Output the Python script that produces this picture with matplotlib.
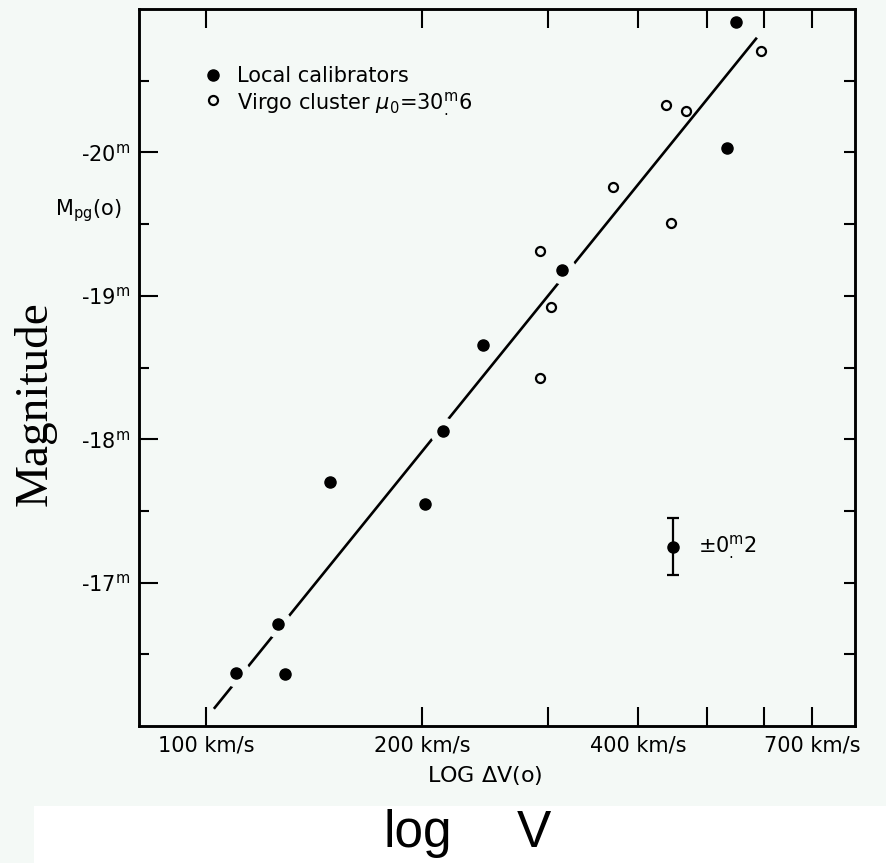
import matplotlib
matplotlib.use("Agg")
import matplotlib.pyplot as plt
from matplotlib.patches import Rectangle
from matplotlib.ticker import NullLocator, FixedLocator

# ---------------- data ----------------
v_local = [110, 126, 129, 149, 202, 214, 243, 313, 532, 548]
M_local = [-16.37, -16.71, -16.36, -17.70, -17.55, -18.06, -18.66, -19.18, -20.03, -20.91]

v_virgo = [292, 303, 292, 369, 445, 438, 466, 594]
M_virgo = [-19.31, -18.92, -18.43, -19.76, -19.51, -20.33, -20.29, -20.71]

line_v = [102.5, 586]
line_M = [-16.12, -20.80]

err_v = [447]
err_M = [-17.25]
err_size = [0.2]

xticks = [100, 200, 300, 400, 500, 600, 700]
xticklabels = ['100 km/s', '200 km/s', '', '400 km/s', '', '', '700 km/s']
yticks = [-20, -19, -18, -17]
yticklabels = [r'-20$^{\rm m}$', r'-19$^{\rm m}$', r'-18$^{\rm m}$', r'-17$^{\rm m}$']
yminor = [-20.5, -19.5, -18.5, -17.5, -16.5]
yright = [-20.5, -20, -19.5, -19, -18.5, -18, -17.5, -17, -16.5]

# ---------------- style ----------------
bg = '#f4f9f6'
W, H = 887, 863
plt.rcParams['font.family'] = ['DejaVu Sans']
plt.rcParams['mathtext.fontset'] = 'dejavusans'

fig = plt.figure(figsize=(W / 100, H / 100), dpi=100, facecolor=bg)
fig.patches.append(Rectangle((34 / W, 0), 1, (H - 806) / H, transform=fig.transFigure,
                             facecolor='white', edgecolor='none', zorder=-1))

L, R, T, B = 139, 855, 9, 726
ax = fig.add_axes([L / W, 1 - B / H, (R - L) / W, (B - T) / H])
ax.set_facecolor(bg)
ax.set_xscale('log')
ax.set_xlim(80.6, 803)
ax.set_ylim(-16.0, -21.0)

# fit line (drawn with gaps around the local calibrators via background halos)
ax.plot(line_v, line_M, color='k', lw=1.9, solid_capstyle='butt', zorder=2)
ax.plot(v_local, M_local, 'o', ms=19, color=bg, mec=bg, zorder=2.2)

ax.plot(v_local, M_local, 'o', ms=8, color='k', zorder=3)
ax.plot(v_virgo, M_virgo, 'o', ms=6.5, mfc=bg, mec='k', mew=1.6, zorder=3)

ax.errorbar(err_v, err_M, yerr=err_size, fmt='o', ms=8, color='k',
            capsize=4, elinewidth=1.6, capthick=1.6, zorder=3)
ax.annotate(r'$\pm0^{\rm m}_{.}2$', (err_v[0], err_M[0]), xytext=(18, 0),
            textcoords='offset points', va='center', ha='left', fontsize=15)

# axes styling
for s in ax.spines.values():
    s.set_linewidth(1.8)
ax.set_xticks(xticks)
ax.set_xticklabels(xticklabels)
ax.xaxis.set_minor_locator(NullLocator())
ax.tick_params(axis='x', which='major', direction='in', length=13.7, width=1.5,
               top=True, labelsize=15, pad=6.5)
ax.set_yticks(yticks)
ax.set_yticklabels(yticklabels)
ax.yaxis.set_minor_locator(FixedLocator(yminor))
ax.tick_params(axis='y', which='major', direction='in', length=13.7, width=1.5,
               right=False, labelsize=15, pad=6.5)
ax.tick_params(axis='y', which='minor', direction='in', length=7.2, width=1.5, right=False)

ax2 = ax.twinx()
ax2.set_ylim(ax.get_ylim())
ax2.set_yticks(yright)
ax2.yaxis.set_minor_locator(NullLocator())
ax2.tick_params(axis='y', direction='in', length=8, width=1.5, labelright=False)
for s in ax2.spines.values():
    s.set_linewidth(1.8)

ax.set_xlabel(r'LOG $\Delta$V(o)', fontsize=16)
ax.xaxis.set_label_coords((485 - L) / (R - L), -(775 - B) / (B - T))
ax.xaxis.label.set_va('center')

# legend (manual, in axes fraction)
ax.plot([0.1034], [0.908], 'o', ms=8, color='k', transform=ax.transAxes, clip_on=False)
ax.plot([0.1034], [0.8726], 'o', ms=6.5, mfc=bg, mec='k', mew=1.6, transform=ax.transAxes)
ax.text(0.137, 0.8986, 'Local calibrators', transform=ax.transAxes, fontsize=15, va='baseline')
ax.text(0.137, 0.8605, r'Virgo cluster $\mu_0$=$30^{\rm m}_{.}6$', transform=ax.transAxes,
        fontsize=15, va='baseline')

# y-axis inner label
fig.text(122 / W, 1 - 211 / H, r'M$_{\rm pg}$(o)', fontsize=15, ha='right', va='center')

# overlay labels
fig.text(35 / W, 1 - 404 / H, 'Magnitude', rotation=90, family='Liberation Serif',
         fontsize=34, ha='center', va='center')
fig.text(384 / W, 1 - 847 / H, 'log', family=['Liberation Sans', 'DejaVu Sans'],
         fontsize=37, ha='left', va='baseline')
fig.text(517 / W, 1 - 847 / H, 'V', family=['Liberation Sans', 'DejaVu Sans'],
         fontsize=37, ha='left', va='baseline')

fig.savefig('out.png', dpi=100, facecolor=bg)
